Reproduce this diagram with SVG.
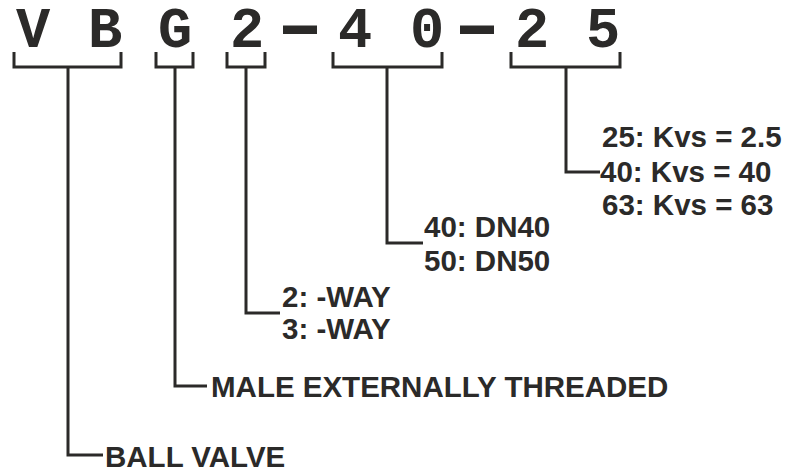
<svg xmlns="http://www.w3.org/2000/svg" width="789" height="472" viewBox="0 0 789 472">
<style>
.code{font-family:"Liberation Mono","Courier New",monospace;font-weight:bold;font-size:57px;fill:#2b2a29;text-anchor:middle}
.lbl{font-family:"Liberation Sans",Arial,sans-serif;font-weight:bold;font-size:29.5px;fill:#2b2a29}
.ln{fill:none;stroke:#2b2a29;stroke-width:3;stroke-linejoin:miter;stroke-linecap:butt}
</style>
<rect width="789" height="472" fill="#ffffff"/>
<g id="code">
<text class="code" x="33" y="47">V</text>
<text class="code" x="105" y="47">B</text>
<text class="code" x="175" y="47">G</text>
<text class="code" x="247" y="47">2</text>
<rect x="283" y="25.5" width="34" height="8.5" fill="#2b2a29"/>
<text class="code" x="355" y="47">4</text>
<text class="code" x="427" y="47">0</text>
<rect x="460" y="25.5" width="34" height="8.5" fill="#2b2a29"/>
<text class="code" x="532" y="47">2</text>
<text class="code" x="603" y="47">5</text>
</g>
<g id="connectors">
<path class="ln" d="M14,52 V67 H121 V52 M68,67 V455 H103"/>
<path class="ln" d="M156,52 V67 H193 V52 M175,67 V386 H207"/>
<path class="ln" d="M227,52 V67 H265 V52 M246,67 V313 H280"/>
<path class="ln" d="M333,52 V67 H442 V52 M387,67 V243 H423"/>
<path class="ln" d="M511,52 V67 H620 V52 M566,67 V172 H600"/>
</g>
<g id="node-ballvalve"><text class="lbl" x="105" y="467">BALL VALVE</text></g>
<g id="node-male"><text class="lbl" x="211" y="397">MALE EXTERNALLY THREADED</text></g>
<g id="node-way">
<text class="lbl" x="282" y="307">2: -WAY</text>
<text class="lbl" x="282" y="339">3: -WAY</text>
</g>
<g id="node-dn">
<text class="lbl" x="424" y="237">40: DN40</text>
<text class="lbl" x="424" y="271">50: DN50</text>
</g>
<g id="node-kvs">
<text class="lbl" x="602" y="147">25: Kvs = 2.5</text>
<text class="lbl" x="600" y="182">40: Kvs = 40</text>
<text class="lbl" x="602" y="215">63: Kvs = 63</text>
</g>
</svg>
